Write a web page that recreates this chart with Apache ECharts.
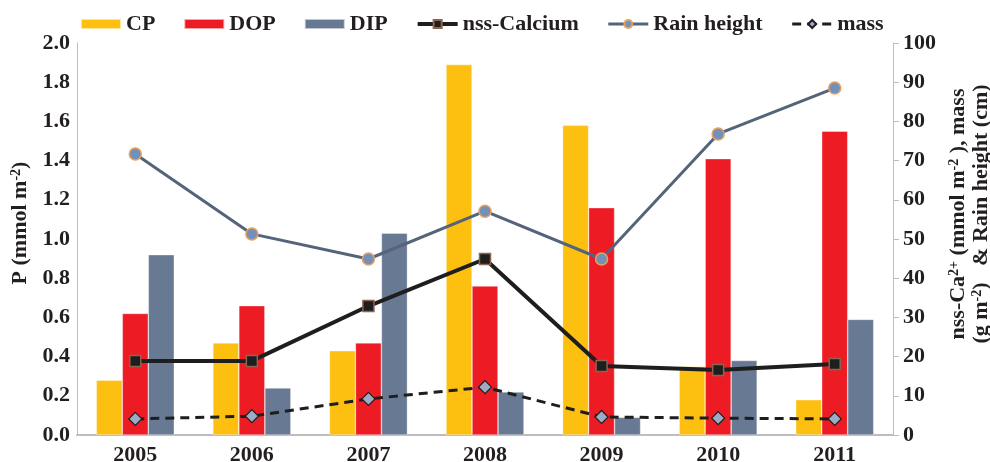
<!DOCTYPE html>
<html><head><meta charset="utf-8">
<script src="https://cdn.jsdelivr.net/npm/echarts@6/dist/echarts.min.js"></script>
<style>html,body{margin:0;padding:0;background:#fff}#c{width:990px;height:462px}</style>
</head><body><div id="c"></div>
<script>
const years = ['2005','2006','2007','2008','2009','2010','2011'];
const cp = [0.28, 0.47, 0.43, 1.89, 1.58, 0.35, 0.18];
const dop = [0.62, 0.66, 0.47, 0.76, 1.16, 1.41, 1.55];
const dip = [0.92, 0.24, 1.03, 0.22, 0.09, 0.38, 0.59];
const nssCa = [18.9, 18.9, 32.9, 44.9, 17.6, 16.6, 18.1];
const rain = [71.7, 51.3, 44.9, 57.1, 44.9, 76.8, 88.5];
const mass = [4.1, 4.8, 9.2, 12.2, 4.6, 4.3, 4.1];

const FONT = 'Liberation Serif';
const lbl = {fontFamily: FONT, fontWeight: 'bold', fontSize: 22, color: '#231f20'};
const sup = {s: {fontFamily: FONT, fontWeight: 'bold', fontSize: 14, verticalAlign: 'top', color: '#231f20'}};
const chart = echarts.init(document.getElementById('c'));
const barBorder = {borderColor: 'rgba(255,255,255,0.6)', borderWidth: 0.6};
chart.setOption({
  animation: false,
  grid: {left: 77, right: 97, top: 43, bottom: 27, containLabel: false, outerBoundsMode: 'none'},
  legend: {
    top: 8, left: 75, itemWidth: 40, itemHeight: 10, itemGap: 28,
    textStyle: Object.assign({}, lbl),
    data: [
      {name: 'CP', icon: 'rect'},
      {name: 'DOP', icon: 'rect'},
      {name: 'DIP', icon: 'rect'},
      {name: 'nss-Calcium', lineStyle: {width: 4}},
      {name: 'Rain height', lineStyle: {width: 3}},
      {name: 'mass', lineStyle: {width: 3}}
    ]
  },
  xAxis: {
    type: 'category', data: years,
    axisLine: {lineStyle: {color: '#bdbdbd', width: 2}},
    axisTick: {show: false},
    axisLabel: Object.assign({}, lbl, {margin: 9})
  },
  yAxis: [
    {
      type: 'value', min: 0, max: 2, interval: 0.2, position: 'left',
      axisLine: {show: true, lineStyle: {color: '#bdbdbd', width: 1}},
      axisTick: {show: false}, splitLine: {show: false},
      axisLabel: Object.assign({}, lbl, {margin: 7, formatter: v => v.toFixed(1)}),
      name: 'P (mmol m{s|-2})', nameLocation: 'middle', nameGap: 44, nameRotate: 90,
      nameTextStyle: Object.assign({}, lbl, {padding: [0, 0, 0, 32], rich: sup})
    },
    {
      type: 'value', min: 0, max: 100, interval: 10, position: 'right',
      axisLine: {show: true, lineStyle: {color: '#bdbdbd', width: 1}},
      axisTick: {show: true, length: 6, lineStyle: {color: '#bdbdbd'}}, splitLine: {show: false},
      axisLabel: Object.assign({}, lbl, {margin: 10}),
      name: 'nss-Ca{s|2+} (mmol m{s|-2} ), mass\n(g m{s|-2})   & Rain height (cm)',
      nameLocation: 'middle', nameGap: 51, nameRotate: 90,
      nameTextStyle: Object.assign({}, lbl, {lineHeight: 23, align: 'center', padding: [0, 0, 0, 50], rich: sup})
    }
  ],
  series: [
    {name: 'CP', type: 'bar', data: cp, barWidth: 26, barGap: '0%', itemStyle: Object.assign({color: '#fdc010'}, barBorder)},
    {name: 'DOP', type: 'bar', data: dop, barWidth: 26, barGap: '0%', itemStyle: Object.assign({color: '#ed1c24'}, barBorder)},
    {name: 'DIP', type: 'bar', data: dip, barWidth: 26, barGap: '0%', itemStyle: Object.assign({color: '#687993'}, barBorder)},
    {name: 'nss-Calcium', type: 'line', yAxisIndex: 1, data: nssCa, symbol: 'rect', symbolSize: 11,
      lineStyle: {color: '#1e1e1e', width: 4}, itemStyle: {color: '#1e1e1e', borderColor: '#8c6450', borderWidth: 1.5}, z: 5},
    {name: 'Rain height', type: 'line', yAxisIndex: 1, data: rain, symbol: 'circle', symbolSize: 12,
      lineStyle: {color: '#55647a', width: 3}, itemStyle: {color: '#7391b8', borderColor: '#e8a060', borderWidth: 1.5}, z: 5},
    {name: 'mass', type: 'line', yAxisIndex: 1, data: mass, symbol: 'diamond', symbolSize: 13,
      lineStyle: {color: '#1e1e1e', width: 3, type: [9, 6]}, itemStyle: {color: '#9eabc6', borderColor: '#1e1e1e', borderWidth: 1.2}, z: 5}
  ]
});
</script></body></html>
